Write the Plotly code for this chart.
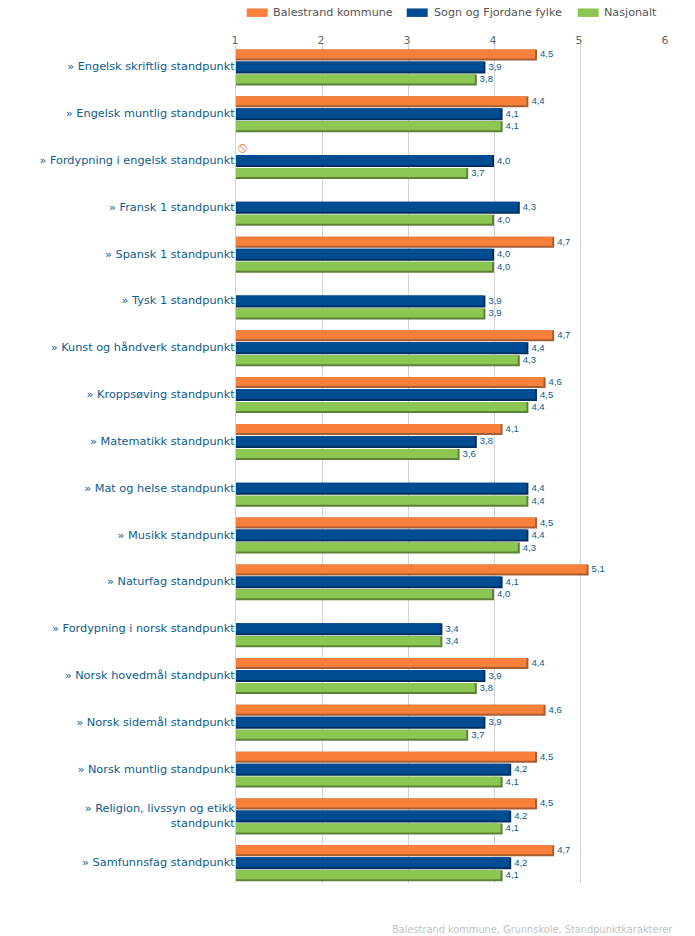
import plotly.graph_objects as go

categories = [
    "» Engelsk skriftlig standpunkt", "» Engelsk muntlig standpunkt",
    "» Fordypning i engelsk standpunkt", "» Fransk 1 standpunkt",
    "» Spansk 1 standpunkt", "» Tysk 1 standpunkt",
    "» Kunst og håndverk standpunkt", "» Kroppsøving standpunkt",
    "» Matematikk standpunkt", "» Mat og helse standpunkt",
    "» Musikk standpunkt", "» Naturfag standpunkt",
    "» Fordypning i norsk standpunkt", "» Norsk hovedmål standpunkt",
    "» Norsk sidemål standpunkt", "» Norsk muntlig standpunkt",
    "» Religion, livssyn og etikk<br>standpunkt", "» Samfunnsfag standpunkt",
]
balestrand = [4.5, 4.4, None, None, 4.7, None, 4.7, 4.6, 4.1, None, 4.5, 5.1, None, 4.4, 4.6, 4.5, 4.5, 4.7]
fylke = [3.9, 4.1, 4.0, 4.3, 4.0, 3.9, 4.4, 4.5, 3.8, 4.4, 4.4, 4.1, 3.4, 3.9, 3.9, 4.2, 4.2, 4.2]
nasjonalt = [3.8, 4.1, 3.7, 4.0, 4.0, 3.9, 4.3, 4.4, 3.6, 4.4, 4.3, 4.0, 3.4, 3.8, 3.7, 4.1, 4.1, 4.1]
series_names = ["Balestrand kommune", "Sogn og Fjordane fylke", "Nasjonalt"]
x_ticks = [1, 2, 3, 4, 5, 6]

W, H = 695, 936
L, R, T, B = 236.3, 666.3, 43.6, 883.4
cat_px = 46.86
y_bottom = (B - T) / cat_px - 0.5
SANS = "DejaVu Sans"
LINK = "#0b5c8e"

styles = [
    (balestrand, "#F8803A", "#A85E32", -18.0, 11.0),
    (fylke, "#004C93", "#00305F", -6.0, 12.0),
    (nasjonalt, "#8CC653", "#5C8238", 7.0, 11.0),
]
ypos = list(range(len(categories)))

fig = go.Figure()
for name, (vals, light, dark, off_px, h_px) in zip(series_names, styles):
    labels = [None if v is None else f"{v:.1f}".replace(".", ",") for v in vals]
    fig.add_trace(go.Bar(
        y=ypos, x=vals, orientation="h", name=name,
        marker=dict(color=dark, line_width=0),
        width=h_px / cat_px, offset=off_px / cat_px,
        textposition="none", showlegend=False, hoverinfo="skip",
    ))
    fig.add_trace(go.Bar(
        y=ypos, x=[None if v is None else v - 2 / 86 for v in vals], orientation="h",
        marker=dict(color=light, line_width=0),
        width=(h_px - 2) / cat_px, offset=off_px / cat_px,
        textposition="none", showlegend=False, hoverinfo="skip",
    ))
    fig.add_trace(go.Bar(
        y=ypos, x=vals, orientation="h",
        marker=dict(color="rgba(0,0,0,0)", line_width=0),
        width=(h_px - 2) / cat_px, offset=off_px / cat_px,
        text=labels, textposition="outside", cliponaxis=False, constraintext="none",
        textfont=dict(family="Liberation Sans", size=9.5, color=LINK),
        showlegend=False, hoverinfo="skip",
    ))

shapes = []
annotations = []
legend_x = [(247, 268, 271.5), (407, 428, 432.5), (578, 599, 602.5)]
for name, (sx0, sx1, tx), st in zip(series_names, legend_x, styles):
    shapes.append(dict(type="rect", xref="paper", yref="paper",
                       x0=(sx0 - L) / (R - L), x1=(sx1 - L) / (R - L),
                       y0=(B - 16.5) / (B - T), y1=(B - 8) / (B - T),
                       fillcolor=st[1], line_width=0))
    annotations.append(dict(text=name, xref="paper", yref="paper",
                            x=(tx - L) / (R - L), y=(B - 12) / (B - T),
                            xanchor="left", yanchor="middle", showarrow=False,
                            font=dict(family=SANS, size=11.2, color="#555555")))
annotations.append(dict(text="Balestrand kommune, Grunnskole, Standpunktkarakterer",
                        xref="paper", yref="paper", x=(675 - L) / (R - L),
                        y=(B - 930) / (B - T), xanchor="right", yanchor="middle",
                        showarrow=False,
                        font=dict(family=SANS, size=9.8, color="#c4c4c4")))
annotations.append(dict(text="⦸", xref="x", yref="y", x=1, y=2, xshift=6, yshift=14,
                        showarrow=False, font=dict(family=SANS, size=14, color="#E8874A")))

fig.update_layout(
    width=W, height=H, barmode="overlay",
    margin=dict(l=L, r=W - R, t=T, b=H - B, pad=0, autoexpand=False),
    paper_bgcolor="white", plot_bgcolor="white", showlegend=False,
    shapes=shapes, annotations=annotations,
    xaxis=dict(range=[1, 6], side="top", tickvals=x_ticks, showgrid=True,
               gridcolor="#d4d4d4", gridwidth=1, zeroline=False, showline=False,
               ticks="", ticklabelstandoff=-3, ticklabelshift=-1,
               tickfont=dict(family=SANS, size=11, color="#666666")),
    yaxis=dict(range=[y_bottom, -0.5], tickvals=ypos,
               ticktext=categories, showgrid=False, zeroline=False, showline=True,
               linecolor="#d4d4d4", linewidth=1, layer="below traces",
               ticks="", ticklabelstandoff=-2, ticklabelshift=1,
               tickfont=dict(family=SANS, size=11.3, color=LINK)),
)
fig.write_html("out.html", config={"displayModeBar": False},
               post_script="document.body.style.margin='0';document.documentElement.style.overflow='hidden';")
